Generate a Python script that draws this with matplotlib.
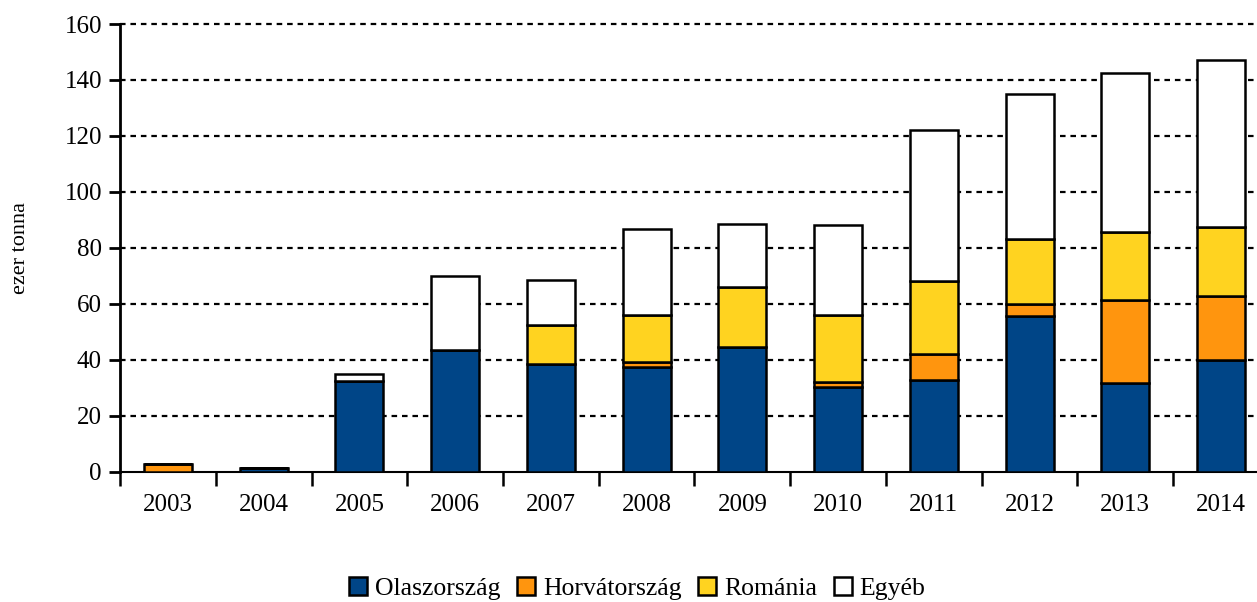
import matplotlib.pyplot as plt
import numpy as np

# adatok (ezer tonna)
evek = ['2003', '2004', '2005', '2006', '2007', '2008', '2009', '2010', '2011', '2012', '2013', '2014']
olasz = [0, 1.3, 32.5, 43.6, 38.5, 37.3, 44.6, 30.4, 32.8, 55.7, 31.6, 40.1]
horvat = [2.8, 0, 0, 0, 0, 1.8, 0, 1.5, 9.2, 4.1, 29.7, 22.8]
romania = [0, 0, 0, 0, 13.9, 17.0, 21.4, 24.1, 26.2, 23.3, 24.4, 24.6]
egyeb = [0, 0, 2.6, 26.5, 16.2, 30.7, 22.4, 32.2, 53.8, 51.8, 56.9, 59.6]

nevek = ['Olaszország', 'Horvátország', 'Románia', 'Egyéb']
szinek = ['#004587', '#FF950E', '#FFD320', '#FFFFFF']

plt.rcParams['font.family'] = ['Liberation Serif', 'DejaVu Serif']

fig = plt.figure(figsize=(12.57, 6.02), dpi=100)
ax = fig.add_axes([0.0955, 0.2164, 0.914, 0.7437])

x = np.arange(len(evek))
alap = np.zeros(len(evek))
for adat, nev, szin in zip([olasz, horvat, romania, egyeb], nevek, szinek):
    adat = np.array(adat)
    ax.bar(x, adat, 0.5, bottom=alap, color=szin, edgecolor='black', linewidth=1.8,
           label=nev, zorder=3)
    alap = alap + adat

ax.set_ylim(0, 160)
ax.set_yticks(np.arange(0, 161, 20))
ax.set_xlim(-0.5, len(evek) - 0.5)
ax.set_xticks(x)
ax.set_xticklabels(evek)
ax.set_xticks(np.arange(-0.5, len(evek), 1), minor=True)
ax.tick_params(axis='x', which='major', length=0, pad=16, labelsize=18)
ax.tick_params(axis='x', which='minor', length=10, width=1.8, direction='out')
ax.tick_params(axis='y', length=8, width=2, labelsize=18, pad=5)

# pontozott rácsvonalak (a 0 kivételével)
for yv in np.arange(20, 161, 20):
    ax.axhline(yv, color='black', linestyle=(0, (2.5, 2.2)), linewidth=1.6, zorder=0,
               clip_on=False)
for s in ['top', 'right']:
    ax.spines[s].set_visible(False)
ax.spines['left'].set_linewidth(2)
ax.spines['bottom'].set_linewidth(1.5)

ax.set_ylabel('ezer tonna', fontsize=16)
ax.yaxis.set_label_coords(-0.078, 0.5)

fig.legend(loc='lower center', bbox_to_anchor=(0.507, -0.035), ncol=4, frameon=False,
           fontsize=18.5, handlelength=0.7, handleheight=0.7, handletextpad=0.3,
           columnspacing=0.65)

fig.savefig('out.png', dpi=100)
